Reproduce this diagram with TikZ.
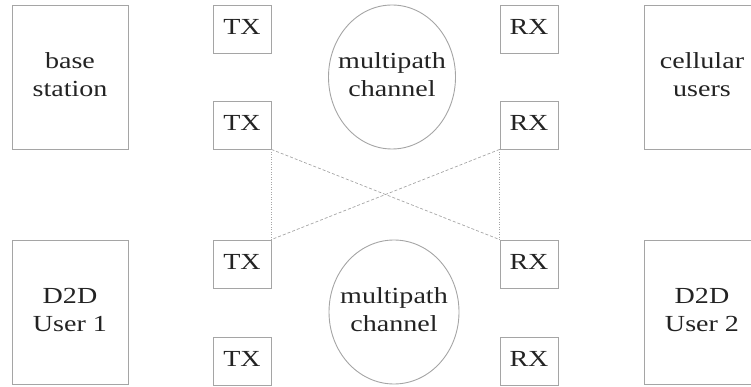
\documentclass[tikz,border=0pt]{standalone}
\usepackage{fontspec}
\setmainfont{Liberation Serif}
\usetikzlibrary{shapes.geometric}
\definecolor{linegray}{RGB}{165,165,165}
\definecolor{textgray}{RGB}{35,35,35}
\newcommand{\wtxt}[1]{\scalebox{1.22}[1]{\begin{tabular}{@{}c@{}}#1\end{tabular}}}
\begin{document}
\begin{tikzpicture}[x=1pt,y=-1pt,
  every node/.style={font=\fontsize{23}{28}\selectfont, text=textgray, align=center, inner sep=0pt},
  bigbox/.style={draw=linegray, line width=0.9pt, minimum width=116pt, minimum height=144pt},
  smallbox/.style={draw=linegray, line width=0.9pt, minimum width=58pt, minimum height=48pt},
  chan/.style={draw=linegray, line width=0.9pt, ellipse, minimum width=127pt, minimum height=144pt},
  crossline/.style={draw=linegray, line width=0.7pt, dash pattern=on 3pt off 2pt},
  vline/.style={draw=linegray, line width=0.7pt, dash pattern=on 1pt off 1.5pt}]
\useasboundingbox (0,0) rectangle (751,387);
\node[bigbox] (bs) at (70,77) {\wtxt{base\\station}};
\node[bigbox] (cu) at (702,77) {\wtxt{cellular\\users}};
\node[bigbox] (d1) at (70,312) {\wtxt{D2D\\User 1}};
\node[bigbox] (d2) at (702,312) {\wtxt{D2D\\User 2}};
\node[smallbox] (tx1) at (242,29) {\wtxt{TX}};
\node[smallbox] (tx2) at (242,125) {\wtxt{TX}};
\node[smallbox] (tx3) at (242,264) {\wtxt{TX}};
\node[smallbox] (tx4) at (242,361) {\wtxt{TX}};
\node[smallbox] (rx1) at (529,29) {\wtxt{RX}};
\node[smallbox] (rx2) at (529,125) {\wtxt{RX}};
\node[smallbox] (rx3) at (529,264) {\wtxt{RX}};
\node[smallbox] (rx4) at (529,361) {\wtxt{RX}};
\node[chan] (ch1) at (392,77) {};
\node (ch1t) at (ch1.center) {\wtxt{multipath\\channel}};
\node[chan, minimum width=130pt] (ch2) at (394,312) {};
\node (ch2t) at (ch2.center) {\wtxt{multipath\\channel}};
\draw[crossline] (tx2.south east) -- (rx3.north west);
\draw[crossline] (rx2.south west) -- (tx3.north east);
\draw[vline] (tx2.south east) -- (tx3.north east);
\draw[vline] (rx2.south west) -- (rx3.north west);
\end{tikzpicture}
\end{document}
